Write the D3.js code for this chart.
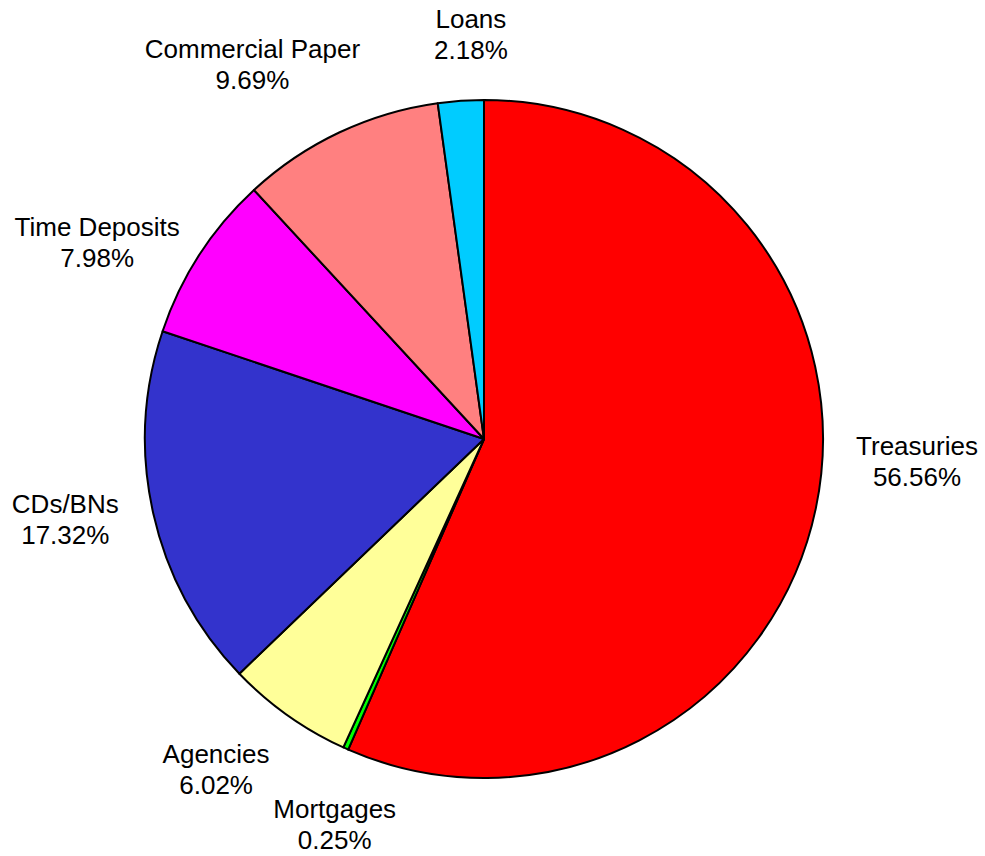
<!DOCTYPE html>
<html>
<head>
<meta charset="utf-8">
<script src="https://cdn.jsdelivr.net/npm/d3@7"></script>
<style>
  html, body { margin: 0; padding: 0; background: #fff; }
  svg { display: block; }
</style>
</head>
<body>
<svg id="chart" width="985" height="856"></svg>
<script>
// ---- data ----
const categories = ["Treasuries", "Mortgages", "Agencies", "CDs/BNs", "Time Deposits", "Commercial Paper", "Loans"];
const shares = [56.56, 0.25, 6.02, 17.32, 7.98, 9.69, 2.18];
const colors = ["#FF0000", "#00FF00", "#FFFF99", "#3333CC", "#FF00FF", "#FF8080", "#00CCFF"];
// manual label placement tweaks (layout only, not data)
const labelNudgeX = [17, 24, -22, -4, -30, -50, 16];
const labelNudgeY = [-65, -3, -17, -13, 34, 9, 19];

const svg = d3.select("#chart");
const cx = 484, cy = 439, r = 339, labelR = 425;

const data = categories.map((c, i) => ({ name: c, value: shares[i], color: colors[i], i }));
const pie = d3.pie().sort(null).value(d => d.value);
const arcs = pie(data);

const arc = d3.arc().innerRadius(0).outerRadius(r);
const labelArc = d3.arc().innerRadius(labelR).outerRadius(labelR);

const g = svg.append("g").attr("transform", `translate(${cx},${cy})`);

g.selectAll("path.slice")
  .data(arcs)
  .join("path")
  .attr("class", "slice")
  .attr("d", arc)
  .attr("fill", d => d.data.color)
  .attr("stroke", "#000")
  .attr("stroke-width", 2)
  .attr("stroke-linejoin", "round");

const fmt = d3.format(".2f");
const labels = g.selectAll("text.lbl")
  .data(arcs)
  .join("text")
  .attr("class", "lbl")
  .attr("text-anchor", "middle")
  .attr("font-family", "'Liberation Sans', Arial, sans-serif")
  .attr("font-size", 26)
  .attr("fill", "#000")
  .attr("transform", d => {
    const [x, y] = labelArc.centroid(d);
    return `translate(${x + labelNudgeX[d.data.i]},${y + labelNudgeY[d.data.i]})`;
  });

labels.append("tspan").attr("x", 0).attr("y", -6).text(d => d.data.name);
labels.append("tspan").attr("x", 0).attr("y", 25).text(d => fmt(d.data.value) + "%");
</script>
</body>
</html>
